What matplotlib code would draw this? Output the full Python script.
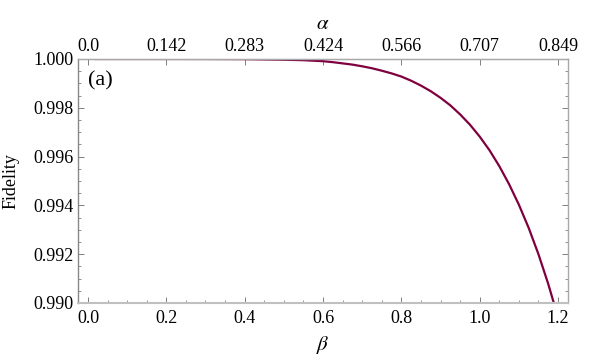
import matplotlib
matplotlib.use("Agg")
import matplotlib.pyplot as plt
from matplotlib.ticker import MultipleLocator

# values
beta = [0.02, 0.1, 0.2, 0.3, 0.4, 0.5, 0.55, 0.6, 0.625, 0.65, 0.675, 0.7,
        0.725, 0.75, 0.775, 0.8, 0.825, 0.85, 0.875, 0.9, 0.925, 0.95, 0.975,
        1.0, 1.025, 1.05, 1.075, 1.1, 1.125, 1.15, 1.175, 1.2]
fidelity = [1.0, 1.0, 1.0, 0.999999, 0.999993, 0.99997, 0.99995, 0.99991,
            0.99987, 0.99982, 0.99977, 0.99970, 0.99962, 0.99952, 0.99941,
            0.99928, 0.99911, 0.99891, 0.99868, 0.99841, 0.99810, 0.99773,
            0.99731, 0.99682, 0.99626, 0.99561, 0.99487, 0.99403, 0.99308,
            0.99200, 0.99078, 0.98941]

beta_ticks = [0.0, 0.2, 0.4, 0.6, 0.8, 1.0, 1.2]
alpha_labels = ["0.0", "0.142", "0.283", "0.424", "0.566", "0.707", "0.849"]
y_ticks = [0.990, 0.992, 0.994, 0.996, 0.998, 1.000]

plt.rcParams["font.family"] = ["Liberation Serif", "DejaVu Serif"]
plt.rcParams["mathtext.fontset"] = "stix"

fig = plt.figure(figsize=(6, 3.61), dpi=100)
ax = fig.add_axes([0.13, 0.1607, 0.8167, 0.6759])

ax.plot(beta, fidelity, color="#80003f", linewidth=1.6,
        solid_joinstyle="round")

ax.set_xlim(-0.0255, 1.2255)
ax.set_ylim(0.990, 1.000)
ax.set_xticks(beta_ticks)
ax.set_xticklabels([f"{b:.1f}" for b in beta_ticks])
ax.xaxis.set_minor_locator(MultipleLocator(0.05))
ax.set_yticks(y_ticks)
ax.set_yticklabels([f"{v:.3f}" for v in y_ticks])
ax.yaxis.set_minor_locator(MultipleLocator(0.0005))

ax.tick_params(which="both", direction="in", labelsize=13, colors="#808080",
               labelcolor="black", top=False, right=True)
ax.tick_params(which="major", length=4.5, width=0.7)
ax.tick_params(which="minor", length=2.5, width=0.6)
ax.tick_params(axis="x", pad=5)
ax.tick_params(axis="y", pad=3)

for side in ["top", "right", "bottom", "left"]:
    ax.spines[side].set_color("#a8a8a8")
    ax.spines[side].set_linewidth(1.0)
ax.spines["left"].set_color("#888888")
ax.spines["bottom"].set_linewidth(1.5)
ax.spines["bottom"].set_color("#c0c0c0")

top = ax.secondary_xaxis("top")
top.set_xticks(beta_ticks)
top.set_xticklabels(alpha_labels)
top.tick_params(direction="in", length=4.5, width=0.7, colors="#808080",
                labelcolor="black", labelsize=13, pad=3)
top.spines["top"].set_color("#a8a8a8")
top.set_xlabel(r"$\alpha$", fontsize=15, labelpad=6)

ax.set_xlabel(r"$\beta$", fontsize=15, labelpad=5)
ax.set_ylabel("Fidelity", fontsize=13, labelpad=10)

ax.text(0.02, 0.91, "(a)", transform=ax.transAxes, fontsize=16,
        ha="left", va="center")

fig.savefig("out.png", dpi=100)
